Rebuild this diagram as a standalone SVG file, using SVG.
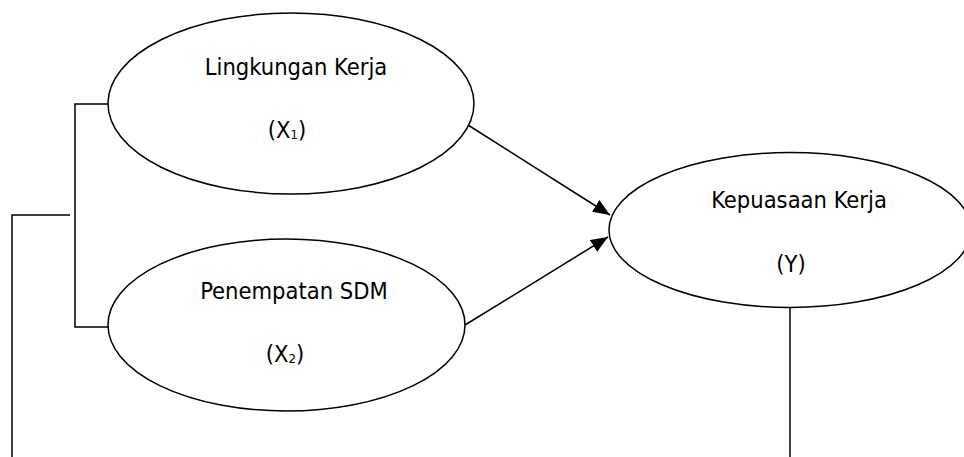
<svg xmlns="http://www.w3.org/2000/svg" width="964" height="457" viewBox="0 0 964 457">
  <style>
    .node { fill: #ffffff; stroke: #000000; stroke-width: 1.5; }
    .label { font-family: "DejaVu Sans Condensed", "DejaVu Sans", "Liberation Sans", sans-serif; font-stretch: condensed; font-size: 23.5px; fill: #000000; text-anchor: middle; }
    .sub { font-size: 13px; }
    .wire { fill: none; stroke: #000000; stroke-width: 1.5; }
  </style>
  <defs>
    <marker id="arrow" markerUnits="userSpaceOnUse" markerWidth="18" markerHeight="14" refX="17" refY="7" orient="auto">
      <path d="M0,0 L17,7 L0,14 Z" fill="#000000"/>
    </marker>
  </defs>
  <rect width="964" height="457" fill="#ffffff"/>

  <g id="connectors">
    <!-- bracket joining both independent variables -->
    <polyline class="wire" points="108,104 75,104 75,327 108,327"/>
    <!-- outer frame lines -->
    <polyline class="wire" points="70,215 12,215 12,457"/>
    <line class="wire" x1="790" y1="307" x2="790" y2="457"/>
    <!-- paths into the dependent variable -->
    <line class="wire" x1="468" y1="125" x2="610" y2="215" marker-end="url(#arrow)"/>
    <line class="wire" x1="465" y1="325" x2="608" y2="237" marker-end="url(#arrow)"/>
  </g>

  <g id="x1">
    <ellipse class="node" cx="291" cy="103.5" rx="183" ry="90.5"/>
    <text class="label" x="296" y="75">Lingkungan Kerja</text>
    <text class="label" x="287" y="138">(X<tspan class="sub" dy="1">1</tspan><tspan dy="-1">)</tspan></text>
  </g>

  <g id="x2">
    <ellipse class="node" cx="286.5" cy="325" rx="178.5" ry="86"/>
    <text class="label" x="294" y="299">Penempatan SDM</text>
    <text class="label" x="285" y="362">(X<tspan class="sub" dy="1">2</tspan><tspan dy="-1">)</tspan></text>
  </g>

  <g id="y">
    <ellipse class="node" cx="790" cy="230" rx="181" ry="77.5"/>
    <text class="label" x="799" y="208">Kepuasaan Kerja</text>
    <text class="label" x="791" y="272">(Y)</text>
  </g>
</svg>
